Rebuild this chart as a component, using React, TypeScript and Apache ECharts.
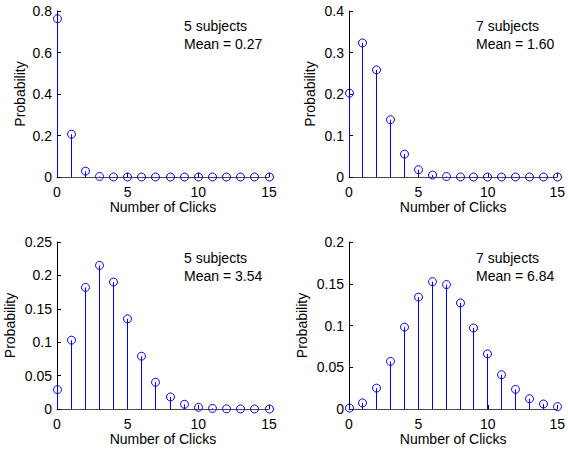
import React, { useEffect, useRef } from "react";
import * as echarts from "echarts";

const clicks = [0, 1, 2, 3, 4, 5, 6, 7, 8, 9, 10, 11, 12, 13, 14, 15];
const probA = [0.763, 0.206, 0.028, 0.0025, 0.0002, 0, 0, 0, 0, 0, 0, 0, 0, 0, 0, 0];
const probB = [0.202, 0.323, 0.258, 0.138, 0.055, 0.0176, 0.0047, 0.0011, 0.0002, 0, 0, 0, 0, 0, 0, 0];
const probC = [0.029, 0.103, 0.182, 0.215, 0.19, 0.135, 0.079, 0.04, 0.018, 0.007, 0.0025, 0.0008, 0.0002, 0.0001, 0, 0];
const probD = [0.0011, 0.0073, 0.025, 0.057, 0.098, 0.134, 0.1525, 0.149, 0.127, 0.097, 0.066, 0.041, 0.0235, 0.0123, 0.006, 0.0028];
const subjectLabels = ["5 subjects", "7 subjects", "5 subjects", "7 subjects"];
const meanLabels = ["Mean = 0.27", "Mean = 1.60", "Mean = 3.54", "Mean = 6.84"];
const yMaxes = [0.8, 0.4, 0.25, 0.2];
const yIntervals = [0.2, 0.1, 0.05, 0.05];
const xTicks = { min: 0, max: 15, interval: 5 };

const FONT = "'Liberation Sans', Arial, Helvetica, sans-serif";
const BLUE = "#0000ff";

export default function App() {
  const ref = useRef<HTMLDivElement>(null);
  useEffect(() => {
    if (!ref.current) return;
    const chart = echarts.init(ref.current, null, { renderer: "svg" });
    const series = [probA, probB, probC, probD];
    const grids = [
      { left: 57, top: 11, width: 212, height: 166 },
      { left: 349, top: 11, width: 211, height: 166 },
      { left: 57, top: 242, width: 212, height: 167 },
      { left: 349, top: 242, width: 211, height: 167 },
    ];
    const yGaps = [30, 32, 40, 40];
    const textPos = [
      { x: 184, y: 26 },
      { x: 476, y: 26 },
      { x: 184, y: 258 },
      { x: 476, y: 258 },
    ];
    const labelStyle = { color: "#000", fontFamily: FONT, fontSize: 14 };
    const option: any = {
      animation: false,
      backgroundColor: "#fff",
      grid: grids.map((g) => ({ ...g, containLabel: false })),
      xAxis: grids.map((_, i) => ({
        type: "value",
        gridIndex: i,
        min: xTicks.min,
        max: xTicks.max,
        interval: xTicks.interval,
        name: "Number of Clicks",
        nameLocation: "middle",
        nameGap: 22,
        nameTextStyle: labelStyle,
        axisLine: { show: true, onZero: false, lineStyle: { color: "#4a4a4a", width: 1 } },
        axisTick: { show: true, inside: true, length: 4, lineStyle: { color: "#000" } },
        axisLabel: { ...labelStyle, margin: 8 },
        splitLine: { show: false },
      })),
      yAxis: grids.map((_, i) => ({
        type: "value",
        gridIndex: i,
        min: 0,
        max: yMaxes[i],
        interval: yIntervals[i],
        name: "Probability",
        nameLocation: "middle",
        nameGap: yGaps[i],
        nameTextStyle: labelStyle,
        axisLine: { show: true, onZero: false, lineStyle: { color: "#000", width: 1 } },
        axisTick: { show: true, inside: true, length: 4, lineStyle: { color: "#000" } },
        axisLabel: { ...labelStyle, margin: 5 },
        splitLine: { show: false },
      })),
      series: series.map((vals, i) => ({
        type: "custom",
        xAxisIndex: i,
        yAxisIndex: i,
        clip: false,
        z: 10,
        data: clicks.map((c, j) => [c, vals[j]]),
        renderItem: (params: any, api: any) => {
          const x = api.value(0);
          const y = api.value(1);
          const top = api.coord([x, y]);
          const base = api.coord([x, 0]);
          const px = Math.round(top[0] - 0.5) + 0.5;
          return {
            type: "group",
            children: [
              {
                type: "line",
                shape: { x1: px, y1: base[1], x2: px, y2: top[1] },
                style: { stroke: BLUE, lineWidth: 1 },
              },
              {
                type: "circle",
                shape: { cx: px, cy: top[1], r: 4 },
                style: { fill: "none", stroke: BLUE, lineWidth: 1 },
              },
            ],
          };
        },
      })),
      graphic: textPos.flatMap((p, i) => [
        {
          type: "text",
          x: p.x,
          y: p.y,
          style: {
            text: subjectLabels[i],
            fill: "#000",
            font: `14px ${FONT}`,
            verticalAlign: "middle",
          },
        },
        {
          type: "text",
          x: p.x,
          y: p.y + 17.5,
          style: {
            text: meanLabels[i],
            fill: "#000",
            font: `14px ${FONT}`,
            verticalAlign: "middle",
          },
        },
      ]),
    };
    chart.setOption(option);
    return () => chart.dispose();
  }, []);
  return (
    <div
      ref={ref}
      style={{ position: "absolute", left: 0, top: 0, width: 568, height: 451, background: "#fff" }}
    />
  );
}
